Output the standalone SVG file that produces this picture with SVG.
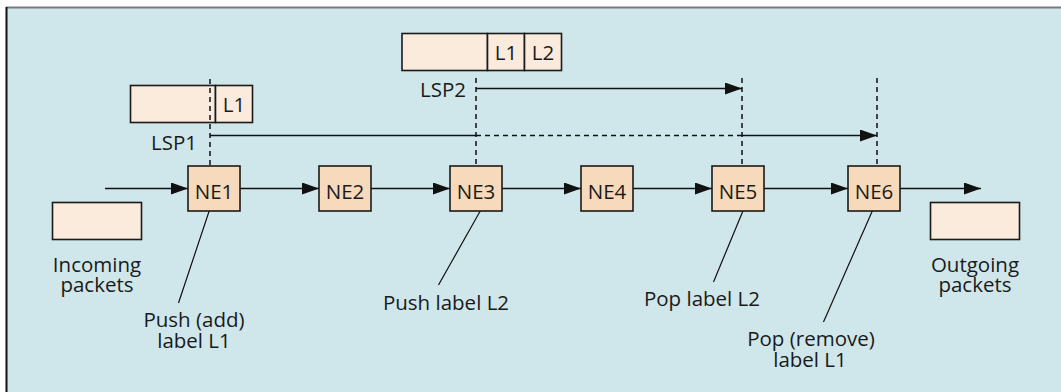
<svg xmlns="http://www.w3.org/2000/svg" width="1061" height="392" viewBox="0 0 1061 392">
  <defs>
    <marker id="arrow" viewBox="0 0 17 12" refX="17" refY="6" markerWidth="17" markerHeight="12" markerUnits="userSpaceOnUse" orient="auto">
      <path d="M0,0 L17,6 L0,12 Z" fill="#111"/>
    </marker>
    <style>
      .txt { font-family: "Open Sans", "Liberation Sans", sans-serif; font-size: 20.5px; fill: #1a1a1a; }
      .mid { text-anchor: middle; }
      .ne { fill: #f6dabb; stroke: #1a1a1a; stroke-width: 1.6; }
      .pkt { fill: #fbebdc; stroke: #1a1a1a; stroke-width: 1.6; }
      .link { stroke: #111; stroke-width: 1.5; fill: none; }
      .dash { stroke: #111; stroke-width: 1.5; fill: none; stroke-dasharray: 5 4; }
      .call { stroke: #111; stroke-width: 1.2; fill: none; }
    </style>
  </defs>

  <!-- panel -->
  <rect x="0" y="0" width="1061" height="392" fill="#ffffff"/>
  <rect x="6" y="7" width="1055" height="385" fill="#cfe7eb"/>
  <line x1="6" y1="7.5" x2="1061" y2="7.5" stroke="#7a7a7a" stroke-width="2"/>
  <line x1="6.5" y1="7" x2="6.5" y2="392" stroke="#111" stroke-width="2"/>

  <!-- label stacks -->
  <g id="stack-lsp1">
    <rect class="pkt" x="130.5" y="85.5" width="85" height="37"/>
    <rect class="pkt" x="215.5" y="85.5" width="37" height="37"/>
    <text class="txt mid" x="234" y="112">L1</text>
  </g>
  <g id="stack-lsp2">
    <rect class="pkt" x="402" y="33.5" width="85.5" height="37"/>
    <rect class="pkt" x="487.5" y="33.5" width="37" height="37"/>
    <rect class="pkt" x="524.5" y="33.5" width="37" height="37"/>
    <text class="txt mid" x="506" y="60">L1</text>
    <text class="txt mid" x="543" y="60">L2</text>
  </g>

  <!-- packets -->
  <g id="incoming">
    <rect class="pkt" x="52.5" y="202.5" width="89" height="37"/>
    <text class="txt mid" x="97" y="272">Incoming</text>
    <text class="txt mid" x="97" y="292">packets</text>
  </g>
  <g id="outgoing">
    <rect class="pkt" x="930.5" y="202.5" width="89" height="37"/>
    <text class="txt mid" x="975" y="272">Outgoing</text>
    <text class="txt mid" x="975" y="292">packets</text>
  </g>

  <!-- connectors -->
  <g id="connectors">
    <!-- forwarding path -->
    <line class="link" x1="105" y1="188.5" x2="188" y2="188.5" marker-end="url(#arrow)"/>
    <line class="link" x1="240" y1="188.5" x2="319" y2="188.5" marker-end="url(#arrow)"/>
    <line class="link" x1="371" y1="188.5" x2="450" y2="188.5" marker-end="url(#arrow)"/>
    <line class="link" x1="502" y1="188.5" x2="581" y2="188.5" marker-end="url(#arrow)"/>
    <line class="link" x1="633" y1="188.5" x2="712" y2="188.5" marker-end="url(#arrow)"/>
    <line class="link" x1="764" y1="188.5" x2="848" y2="188.5" marker-end="url(#arrow)"/>
    <line class="link" x1="900" y1="188.5" x2="981" y2="188.5" marker-end="url(#arrow)"/>

    <!-- LSP boundaries -->
    <line class="dash" x1="210" y1="79" x2="210" y2="165"/>
    <line class="dash" x1="476" y1="78" x2="476" y2="165"/>
    <line class="dash" x1="742" y1="78" x2="742" y2="165"/>
    <line class="dash" x1="877" y1="78" x2="877" y2="165"/>

    <!-- LSP1 -->
    <line class="link" x1="210" y1="135.5" x2="476" y2="135.5"/>
    <line class="dash" x1="476" y1="135.5" x2="742" y2="135.5"/>
    <line class="link" x1="742" y1="135.5" x2="877" y2="135.5" marker-end="url(#arrow)"/>

    <!-- LSP2 -->
    <line class="link" x1="476" y1="88.5" x2="742" y2="88.5" marker-end="url(#arrow)"/>

    <!-- callouts -->
    <line class="call" x1="210.5" y1="207" x2="178.5" y2="303"/>
    <line class="call" x1="482.5" y1="207" x2="438.5" y2="285"/>
    <line class="call" x1="745" y1="206" x2="713.5" y2="282"/>
    <line class="call" x1="874.5" y1="206" x2="823.5" y2="322"/>
  </g>

  <text class="txt" x="151" y="150">LSP1</text>
  <text class="txt" x="420" y="97">LSP2</text>

  <!-- network elements -->
  <g id="ne1"><rect class="ne" x="188" y="166" width="52" height="45"/><text class="txt mid" x="214" y="199">NE1</text></g>
  <g id="ne2"><rect class="ne" x="319" y="166" width="52" height="45"/><text class="txt mid" x="345" y="199">NE2</text></g>
  <g id="ne3"><rect class="ne" x="450" y="166" width="52" height="45"/><text class="txt mid" x="476" y="199">NE3</text></g>
  <g id="ne4"><rect class="ne" x="581" y="166" width="52" height="45"/><text class="txt mid" x="607" y="199">NE4</text></g>
  <g id="ne5"><rect class="ne" x="712" y="166" width="52" height="45"/><text class="txt mid" x="738" y="199">NE5</text></g>
  <g id="ne6"><rect class="ne" x="848" y="166" width="52" height="45"/><text class="txt mid" x="874" y="199">NE6</text></g>

  <!-- operation notes -->
  <g id="note-push-l1">
    <text class="txt mid" x="194" y="327">Push (add)</text>
    <text class="txt mid" x="194" y="348">label L1</text>
  </g>
  <g id="note-push-l2">
    <text class="txt mid" x="446" y="310">Push label L2</text>
  </g>
  <g id="note-pop-l2">
    <text class="txt mid" x="702" y="306">Pop label L2</text>
  </g>
  <g id="note-pop-l1">
    <text class="txt mid" x="811" y="346">Pop (remove)</text>
    <text class="txt mid" x="810" y="367">label L1</text>
  </g>
</svg>
